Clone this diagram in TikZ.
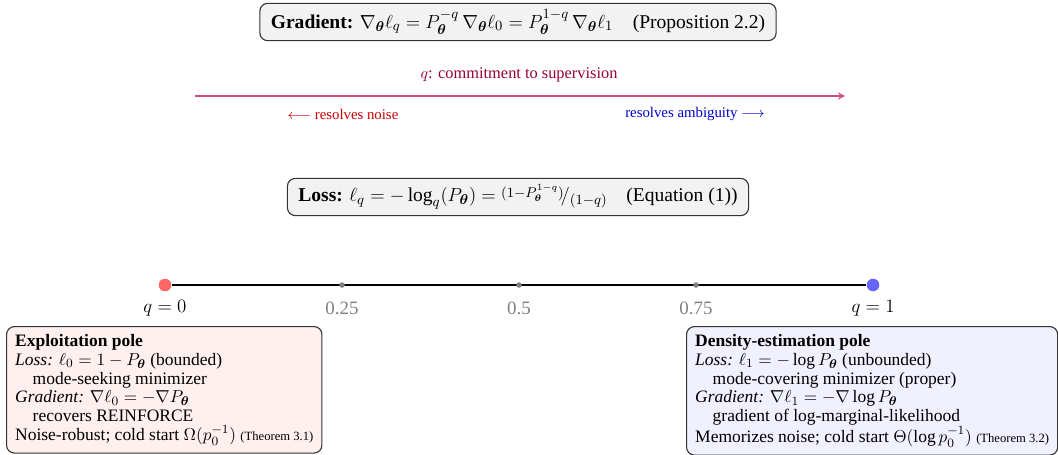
\documentclass[tikz,border=0pt]{standalone}
\usepackage{amsmath}
\usepackage{bm}
\usepackage{fontspec}
\setmainfont{Liberation Serif}
\begin{document}
\begin{tikzpicture}[x=0.635pt,y=-0.635pt,
  eqbox/.style={draw=black!80, fill=black!5, rounded corners=5pt, line width=0.7pt, inner xsep=7pt, inner ysep=4pt, font=\fontsize{12.4}{14}\selectfont},
  polebox/.style={draw=black!80, rounded corners=5pt, line width=0.7pt, inner xsep=5.5pt, inner ysep=5pt, align=left, anchor=north west, font=\fontsize{11.1}{11.9}\selectfont},
  tick/.style={circle, fill=black!50, inner sep=0pt, minimum size=3.5pt},
  tlabel/.style={text=black!50, font=\large},
  plabel/.style={font=\fontsize{13}{15}\selectfont}]
\useasboundingbox (0,0) rectangle (1058,454);
\node[eqbox] (grad) at (518,22) {\textbf{Gradient:} $\nabla_{\bm\theta}\ell_q = P_{\bm\theta}^{-q}\,\nabla_{\bm\theta}\ell_0 = P_{\bm\theta}^{1-q}\,\nabla_{\bm\theta}\ell_1$\quad(Proposition 2.2)};
\node[text=purple!80!black, font=\fontsize{10.4}{12}\selectfont] (qlab) at (519,75) {$q$: commitment to supervision};
\coordinate (aL) at (195,96);
\coordinate (aR) at (845,96);
\draw[purple!70, line width=1pt, -stealth] (aL) -- (aR);
\node[text=red!80!black, font=\fontsize{9.4}{11}\selectfont] (noise) at (343,114) {$\longleftarrow$ resolves noise};
\node[text=blue!80!black, font=\fontsize{9.4}{11}\selectfont] (amb) at (695,114) {resolves ambiguity $\longrightarrow$};
\node[eqbox] (loss) at (518,197) {\textbf{Loss:} $\ell_q = -\log_q(P_{\bm\theta}) = \raisebox{0.45ex}{$\scriptstyle(1-P_{\bm\theta}^{1-q})$}\!/\raisebox{-0.35ex}{$\scriptstyle(1-q)$}$\quad(Equation (1))};
\node[circle, fill=red!60, inner sep=0pt, minimum size=8pt] (q0) at (165,285) {};
\node[circle, fill=blue!60, inner sep=0pt, minimum size=8pt] (q1) at (873,285) {};
\draw[black, line width=1.5pt] (q0) -- (q1);
\node[tick] (t1) at (342,285) {};
\node[tick] (t2) at (519,285) {};
\node[tick] (t3) at (696,285) {};
\node[plabel] (l0) at (165,308) {$q=0$};
\node[tlabel] (l1) at (342,308) {0.25};
\node[tlabel] (l2) at (519,308) {0.5};
\node[tlabel] (l3) at (696,308) {0.75};
\node[plabel] (l4) at (873,308) {$q=1$};
\node[polebox, fill=red!6] (left) at (6,326) {\textbf{Exploitation pole}\\
\textit{Loss:} $\ell_0 = 1 - P_{\bm\theta}$ (bounded)\\
\hspace*{1em}mode-seeking minimizer\\
\textit{Gradient:} $\nabla\ell_0 = -\nabla P_{\bm\theta}$\\
\hspace*{1em}recovers REINFORCE\\
Noise-robust; cold start $\Omega(p_0^{-1})$ {\footnotesize (Theorem 3.1)}};
\node[polebox, fill=blue!6] (right) at (686,326) {\textbf{Density-estimation pole}\\
\textit{Loss:} $\ell_1 = -\log P_{\bm\theta}$ (unbounded)\\
\hspace*{1em}mode-covering minimizer (proper)\\
\textit{Gradient:} $\nabla\ell_1 = -\nabla \log P_{\bm\theta}$\\
\hspace*{1em}gradient of log-marginal-likelihood\\
Memorizes noise; cold start $\Theta(\log p_0^{-1})$ {\footnotesize (Theorem 3.2)}};
\end{tikzpicture}
\end{document}
